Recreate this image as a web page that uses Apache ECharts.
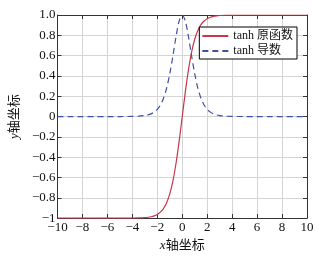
<!DOCTYPE html>
<html>
<head>
<meta charset="utf-8">
<script src="https://cdn.jsdelivr.net/npm/echarts@6/dist/echarts.min.js"></script>
<style>
  html, body { margin: 0; padding: 0; background: #fff; }
  #main { width: 319px; height: 257px; }
</style>
</head>
<body>
<div id="main"></div>
<script>
// x samples and values
const xs = [-10, -9, -8, -7, -6, -5, -4.5, -4, -3.5, -3, -2.75, -2.5, -2.25, -2, -1.75, -1.5, -1.25, -1, -0.75, -0.5, -0.25,
    0, 0.25, 0.5, 0.75, 1, 1.25, 1.5, 1.75, 2, 2.25, 2.5, 2.75, 3, 3.5, 4, 4.5, 5, 6, 7, 8, 9, 10]
const tanhVals = [-1, -1, -1, -1, -1, -0.9999, -0.9998, -0.9993, -0.9982, -0.9951, -0.9919, -0.9866, -0.978, -0.964, -0.9414, -0.9051, -0.8483, -0.7616, -0.6351, -0.4621, -0.2449,
    0, 0.2449, 0.4621, 0.6351, 0.7616, 0.8483, 0.9051, 0.9414, 0.964, 0.978, 0.9866, 0.9919, 0.9951, 0.9982, 0.9993, 0.9998, 0.9999, 1, 1, 1, 1, 1]
const dtanhVals = [0, 0, 0, 0, 0, 0.0002, 0.0005, 0.0013, 0.0036, 0.0099, 0.0161, 0.0266, 0.0436, 0.0707, 0.1138, 0.1807, 0.2804, 0.42, 0.5966, 0.7864, 0.94,
    1, 0.94, 0.7864, 0.5966, 0.42, 0.2804, 0.1807, 0.1138, 0.0707, 0.0436, 0.0266, 0.0161, 0.0099, 0.0036, 0.0013, 0.0005, 0.0002, 0, 0, 0, 0, 0]
const seriesNames = ['tanh 原函数', 'tanh 导数']

const serif = 'Liberation Serif, Noto Sans CJK SC'
const minus = s => String(s).replace('-', '\u2212')

const chart = echarts.init(document.getElementById('main'), null, { renderer: 'canvas' })

const boxAxis = {
    axisLine: { show: true, onZero: false, lineStyle: { color: '#333', width: 1 } },
    axisTick: { show: true, inside: true, length: 4, lineStyle: { color: '#333' } },
    axisLabel: { show: false },
    splitLine: { show: false }
}

chart.setOption({
    animation: false,
    textStyle: { fontFamily: serif },
    grid: { left: 44, right: 12, top: 15, bottom: 35 },
    legend: {
        orient: 'vertical',
        right: 22,
        top: 27,
        data: seriesNames,
        backgroundColor: '#fff',
        borderColor: '#000',
        borderWidth: 1,
        borderRadius: 0,
        padding: [3, 4, 2, 2],
        itemWidth: 26,
        itemHeight: 10,
        itemGap: 3,
        itemStyle: { opacity: 0 },
        textStyle: { fontFamily: serif, fontSize: 12, color: '#111' }
    },
    xAxis: [{
        type: 'value',
        min: -10,
        max: 10,
        interval: 2,
        name: '{i|x}轴坐标',
        nameLocation: 'middle',
        nameGap: 18,
        nameTextStyle: {
            fontFamily: serif, fontSize: 13, color: '#111',
            rich: { i: { fontStyle: 'italic', fontFamily: serif, fontSize: 13, color: '#111' } }
        },
        axisLine: { show: true, onZero: false, lineStyle: { color: '#333', width: 1 } },
        axisTick: { show: true, inside: true, length: 4, lineStyle: { color: '#333' } },
        axisLabel: { color: '#111', fontSize: 13, margin: 3, formatter: v => minus(v) },
        splitLine: { show: true, lineStyle: { color: '#d4d4d4', width: 1 } }
    }, Object.assign({ type: 'value', position: 'top', min: -10, max: 10, interval: 2 }, boxAxis)],
    yAxis: [{
        type: 'value',
        min: -1,
        max: 1,
        interval: 0.2,
        name: '{i|y}轴坐标',
        nameLocation: 'middle',
        nameRotate: 90,
        nameGap: 33,
        nameTextStyle: {
            fontFamily: serif, fontSize: 13, color: '#111',
            rich: { i: { fontStyle: 'italic', fontFamily: serif, fontSize: 13, color: '#111' } }
        },
        axisLine: { show: true, onZero: false, lineStyle: { color: '#333', width: 1 } },
        axisTick: { show: true, inside: true, length: 4, lineStyle: { color: '#333' } },
        axisLabel: {
            color: '#111', fontSize: 13, margin: 2,
            formatter: v => {
                if (Math.abs(v) < 1e-9) return '0'
                if (Math.abs(v + 1) < 1e-9) return '\u22121'
                return minus(v.toFixed(1))
            }
        },
        splitLine: { show: true, lineStyle: { color: '#d4d4d4', width: 1 } }
    }, Object.assign({ type: 'value', position: 'right', min: -1, max: 1, interval: 0.2 }, boxAxis)],
    series: [{
        name: seriesNames[0],
        type: 'line',
        symbol: 'none',
        smooth: 0.3,
        color: '#c8364a',
        lineStyle: { width: 1.2, color: '#c8364a' },
        data: xs.map((x, i) => [x, tanhVals[i]])
    }, {
        name: seriesNames[1],
        type: 'line',
        symbol: 'none',
        smooth: 0.3,
        color: '#3f4fa3',
        lineStyle: { width: 1.2, color: '#3f4fa3', type: [6, 4] },
        data: xs.map((x, i) => [x, dtanhVals[i]])
    }]
})
</script>
</body>
</html>
